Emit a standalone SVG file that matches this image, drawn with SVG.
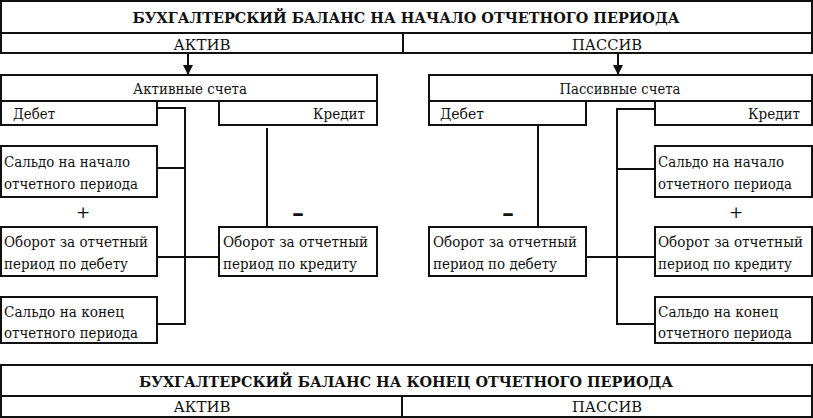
<svg xmlns="http://www.w3.org/2000/svg" width="813" height="418" viewBox="0 0 813 418">
<defs>
<style>
rect{fill:#fff;stroke:#111;stroke-width:2}
text{font-family:'DejaVu Serif','Liberation Serif',serif;fill:#111;font-size:15px}
.t{font-weight:bold;font-size:15.5px;text-anchor:middle}
.c{text-anchor:middle}
.ln{fill:none;stroke:#111;stroke-width:2}
.pl{font-size:17px;text-anchor:middle;font-weight:300}
.mn{font-size:24px;text-anchor:middle;font-weight:bold}
</style>
<marker id="ah" viewBox="0 0 10 10" refX="10" refY="5" markerWidth="10" markerHeight="10" markerUnits="userSpaceOnUse" orient="auto">
<path d="M0,0 L10,5 L0,10 z" fill="#111"/>
</marker>
</defs>

<g id="top-balance">
<rect x="1" y="1" width="811" height="32"/>
<text class="t" x="406" y="23" textLength="547" lengthAdjust="spacingAndGlyphs">БУХГАЛТЕРСКИЙ БАЛАНС НА НАЧАЛО ОТЧЕТНОГО ПЕРИОДА</text>
<rect x="1" y="33" width="402" height="20"/>
<rect x="403" y="33" width="409" height="20"/>
<text class="c" x="202" y="50" textLength="57" lengthAdjust="spacingAndGlyphs">АКТИВ</text>
<text class="c" x="607" y="50" textLength="70" lengthAdjust="spacingAndGlyphs">ПАССИВ</text>
</g>

<g id="active-accounts">
<rect x="1" y="75" width="376" height="26"/>
<text class="c" x="190" y="94" textLength="114" lengthAdjust="spacingAndGlyphs">Активные счета</text>
<rect x="1" y="101" width="156" height="24"/>
<text x="13" y="119" textLength="42" lengthAdjust="spacingAndGlyphs">Дебет</text>
<rect x="219" y="101" width="158" height="24"/>
<text x="313" y="119" textLength="52" lengthAdjust="spacingAndGlyphs">Кредит</text>
</g>

<g id="passive-accounts">
<rect x="429" y="75" width="383" height="26"/>
<text class="c" x="620" y="94" textLength="121" lengthAdjust="spacingAndGlyphs">Пассивные счета</text>
<rect x="429" y="101" width="157" height="24"/>
<text x="440" y="119" textLength="44" lengthAdjust="spacingAndGlyphs">Дебет</text>
<rect x="655" y="101" width="157" height="24"/>
<text x="748" y="119" textLength="52" lengthAdjust="spacingAndGlyphs">Кредит</text>
</g>

<g id="a-saldo-start">
<rect x="1" y="146" width="156" height="51"/>
<text x="4" y="167" textLength="126" lengthAdjust="spacingAndGlyphs">Сальдо на начало</text>
<text x="4" y="189" textLength="134" lengthAdjust="spacingAndGlyphs">отчетного периода</text>
</g>
<g id="a-turn-debit">
<rect x="1" y="227" width="156" height="49"/>
<text x="4" y="247" textLength="144" lengthAdjust="spacingAndGlyphs">Оборот за отчетный</text>
<text x="4" y="269" textLength="124" lengthAdjust="spacingAndGlyphs">период по дебету</text>
</g>
<g id="a-saldo-end">
<rect x="1" y="297" width="156" height="46"/>
<text x="4" y="317" textLength="120" lengthAdjust="spacingAndGlyphs">Сальдо на конец</text>
<text x="4" y="338" textLength="134" lengthAdjust="spacingAndGlyphs">отчетного периода</text>
</g>
<g id="a-turn-credit">
<rect x="219" y="227" width="158" height="49"/>
<text x="223" y="247" textLength="145" lengthAdjust="spacingAndGlyphs">Оборот за отчетный</text>
<text x="223" y="269" textLength="134" lengthAdjust="spacingAndGlyphs">период по кредиту</text>
</g>

<g id="p-turn-debit">
<rect x="429" y="227" width="157" height="49"/>
<text x="433" y="247" textLength="144" lengthAdjust="spacingAndGlyphs">Оборот за отчетный</text>
<text x="433" y="269" textLength="124" lengthAdjust="spacingAndGlyphs">период по дебету</text>
</g>
<g id="p-saldo-start">
<rect x="655" y="146" width="157" height="51"/>
<text x="658" y="167" textLength="126" lengthAdjust="spacingAndGlyphs">Сальдо на начало</text>
<text x="658" y="189" textLength="134" lengthAdjust="spacingAndGlyphs">отчетного периода</text>
</g>
<g id="p-turn-credit">
<rect x="655" y="227" width="157" height="49"/>
<text x="658" y="247" textLength="145" lengthAdjust="spacingAndGlyphs">Оборот за отчетный</text>
<text x="658" y="269" textLength="134" lengthAdjust="spacingAndGlyphs">период по кредиту</text>
</g>
<g id="p-saldo-end">
<rect x="655" y="297" width="157" height="46"/>
<text x="658" y="317" textLength="120" lengthAdjust="spacingAndGlyphs">Сальдо на конец</text>
<text x="658" y="338" textLength="134" lengthAdjust="spacingAndGlyphs">отчетного периода</text>
</g>

<g id="signs">
<text class="pl" x="83" y="218">+</text>
<text class="pl" x="736" y="218">+</text>
<text class="mn" x="298" y="221">–</text>
<text class="mn" x="508" y="221">–</text>
</g>

<g id="bottom-balance">
<rect x="1" y="365" width="811" height="31"/>
<text class="t" x="406" y="387" textLength="534" lengthAdjust="spacingAndGlyphs">БУХГАЛТЕРСКИЙ БАЛАНС НА КОНЕЦ ОТЧЕТНОГО ПЕРИОДА</text>
<rect x="1" y="396" width="401" height="21"/>
<rect x="402" y="396" width="410" height="21"/>
<text class="c" x="202" y="412" textLength="57" lengthAdjust="spacingAndGlyphs">АКТИВ</text>
<text class="c" x="607" y="412" textLength="70" lengthAdjust="spacingAndGlyphs">ПАССИВ</text>
</g>

<g id="connectors">
<line class="ln" x1="188" y1="53" x2="188" y2="75" marker-end="url(#ah)"/>
<line class="ln" x1="618" y1="53" x2="618" y2="75" marker-end="url(#ah)"/>
<polyline class="ln" points="157,108 185,108 185,324 157,324"/>
<line class="ln" x1="157" y1="168" x2="185" y2="168"/>
<line class="ln" x1="157" y1="257" x2="219" y2="257"/>
<line class="ln" x1="267" y1="128" x2="267" y2="227"/>
<line class="ln" x1="538" y1="125" x2="538" y2="227"/>
<polyline class="ln" points="655,109 617,109 617,324 655,324"/>
<line class="ln" x1="617" y1="169" x2="655" y2="169"/>
<line class="ln" x1="586" y1="257" x2="655" y2="257"/>
</g>
</svg>
